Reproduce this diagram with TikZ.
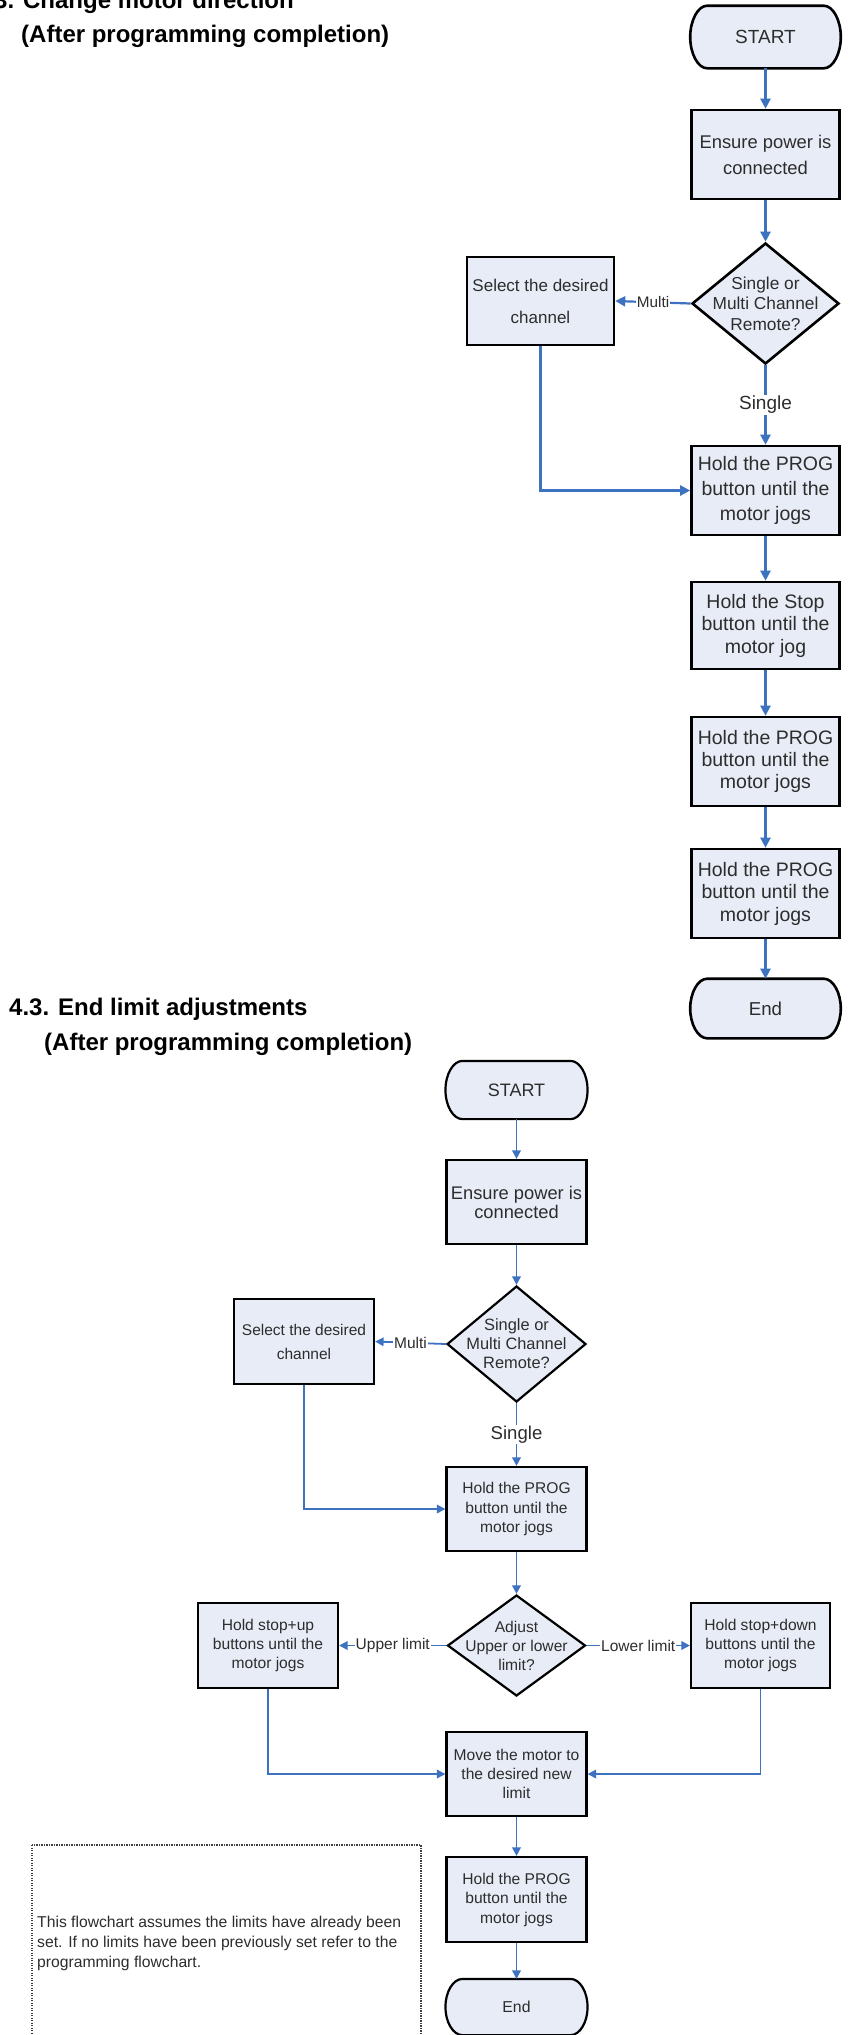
\documentclass[tikz,border=0pt]{standalone}
\usepackage{fontspec}
\setmainfont{Liberation Sans}
\usetikzlibrary{shapes.geometric,arrows.meta,backgrounds}
\definecolor{boxfill}{RGB}{232,236,247}
\definecolor{conn}{RGB}{60,114,192}
\definecolor{txt}{RGB}{45,45,45}
\newcommand\fsz[2]{\fontsize{#1}{#2}\selectfont}
% #1 node name, #2 line width, #3 vertical control length
\newcommand\termpath[3]{%
  \filldraw[fill=boxfill, draw=black, line width=#2]
    ([xshift=17pt]#1.north west) -- ([xshift=-17pt]#1.north east)
    .. controls +(9.4pt,0pt) and +(0pt,#3) .. (#1.east)
    .. controls +(0pt,-#3) and +(9.4pt,0pt) .. ([xshift=-17pt]#1.south east)
    -- ([xshift=17pt]#1.south west)
    .. controls +(-9.4pt,0pt) and +(0pt,-#3) .. (#1.west)
    .. controls +(0pt,#3) and +(-9.4pt,0pt) .. ([xshift=17pt]#1.north west)
    -- cycle;}
\begin{document}
\begin{tikzpicture}[x=1pt,y=-1pt,
  titletext/.style={inner sep=0pt, anchor=base west, text=black, font=\fsz{24}{28}\bfseries},
  tbox/.style={rectangle, draw=black, line width=2.6pt, fill=boxfill, inner sep=0pt,
               align=center, text=txt, minimum width=148pt},
  bbox/.style={rectangle, draw=black, line width=2.2pt, fill=boxfill, inner sep=0pt,
               align=center, text=txt, minimum width=140pt},
  tterm/.style={rectangle, inner sep=0pt, outer sep=1.3pt, align=center, text=txt, minimum width=148pt},
  bterm/.style={rectangle, inner sep=0pt, outer sep=1.1pt, align=center, text=txt, minimum width=140pt},
  tdia/.style={diamond, draw=black, line width=2.6pt, fill=boxfill, inner sep=0pt},
  bdia/.style={diamond, draw=black, line width=2.2pt, fill=boxfill, inner sep=0pt},
  dtext/.style={inner sep=0pt, align=center, text=txt},
  tconn/.style={draw=conn, line width=2.2pt, -{Triangle[length=10pt,width=10pt]}},
  bconn/.style={draw=conn, line width=1.8pt, -{Triangle[length=8.5pt,width=8.5pt]}},
  lbl/.style={fill=white, inner sep=1.2pt, text=txt},
  notebox/.style={draw=black!75, line width=1.2pt, dash pattern=on 1.2pt off 1.3pt}
]
\useasboundingbox (0,0) rectangle (853,2035);
\clip (0,0) rectangle (853,2035);

% ---------- titles ----------
\node[titletext] (t1a) at (-6,8) {3. Change motor direction};
\node[titletext] (t1b) at (21,42) {(After programming completion)};
\node[titletext] (t2a) at (9,1015) {4.3. End limit adjustments};
\node[titletext] (t2b) at (44,1050) {(After programming completion)};

% ---------- top chart ----------
\node[tterm, minimum height=60pt, font=\fsz{19}{22}] (start1) at (765.5,37) {START};
\node[tbox, minimum height=89pt, font=\fsz{18.4}{26}] (ensure1) at (765.5,154.5) {Ensure power is\\connected};
\node[tdia, minimum width=147pt, minimum height=121pt] (dec1) at (765.5,303.5) {};
\node[dtext, font=\fsz{17.3}{20.5}] (dec1t) at (dec1.center) {Single or\\Multi Channel\\Remote?};
\node[tbox, minimum width=147pt, minimum height=88pt, font=\fsz{17}{32}] (select1) at (540.5,301) {Select the desired\\channel};
\node[tbox, minimum height=89pt, font=\fsz{19.5}{25}] (prog1) at (765.5,490.5) {Hold the PROG\\button until the\\motor jogs};
\node[tbox, minimum height=87pt, font=\fsz{19.5}{22.5}] (stop1) at (765.5,625.5) {Hold the Stop\\button until the\\motor jog};
\node[tbox, minimum height=89pt, font=\fsz{19.5}{22}] (prog2) at (765.5,761.5) {Hold the PROG\\button until the\\motor jogs};
\node[tbox, minimum height=89pt, font=\fsz{19.5}{22.5}] (prog3) at (765.5,893.5) {Hold the PROG\\button until the\\motor jogs};
\node[tterm, minimum height=57pt, font=\fsz{18.7}{22}] (end1) at (765.5,1008.5) {End};

\draw[tconn] (start1.south) -- (ensure1.north);
\draw[tconn] (ensure1.south) -- (dec1.north);
\draw[tconn] (dec1.west) -- node[lbl, font=\fsz{15.3}{18}] {Multi} (select1.east);
\draw[tconn] (dec1.south) -- node[lbl, font=\fsz{19}{22}] {Single} (prog1.north);
\draw[tconn] (select1.south) |- (prog1.west);
\draw[tconn] (prog1.south) -- (stop1.north);
\draw[tconn] (stop1.south) -- (prog2.north);
\draw[tconn] (prog2.south) -- (prog3.north);
\draw[tconn] (prog3.south) -- (end1.north);

% ---------- bottom chart ----------
\node[bterm, minimum height=56pt, font=\fsz{18}{22}] (start2) at (516.5,1090) {START};
\node[bbox, minimum height=84pt, font=\fsz{18.3}{19}] (ensure2) at (516.5,1202) {Ensure power is\\connected};
\node[bdia, minimum width=139pt, minimum height=116pt] (dec2) at (516.5,1344) {};
\node[dtext, font=\fsz{16.4}{19}] (dec2t) at (dec2.center) {Single or\\Multi Channel\\Remote?};
\node[bbox, minimum height=85pt, font=\fsz{15.5}{24}] (select2) at (304,1341.5) {Select the desired\\channel};
\node[bbox, minimum height=84pt, font=\fsz{15.6}{19.5}] (prog21) at (516.5,1509) {Hold the PROG\\button until the\\motor jogs};
\node[bdia, minimum width=138pt, minimum height=101pt] (dec3) at (516.5,1645.5) {};
\node[dtext, font=\fsz{15.6}{19}] (dec3t) at (dec3.center) {Adjust\\Upper or lower\\limit?};
\node[bbox, minimum height=85pt, font=\fsz{15.6}{19}] (stopup) at (268,1645.5) {Hold stop+up\\buttons until the\\motor jogs};
\node[bbox, minimum width=139pt, minimum height=85pt, font=\fsz{15.6}{19}] (stopdown) at (760.5,1645.5) {Hold stop+down\\buttons until the\\motor jogs};
\node[bbox, minimum height=84pt, font=\fsz{15.6}{19}] (move) at (516.5,1774) {Move the motor to\\the desired new\\limit};
\node[bbox, minimum height=85pt, font=\fsz{15.6}{19.5}] (prog22) at (516.5,1899.5) {Hold the PROG\\button until the\\motor jogs};
\node[bterm, minimum height=54pt, font=\fsz{15.8}{20}] (end2) at (516.5,2007) {End};

\draw[bconn] (start2.south) -- (ensure2.north);
\draw[bconn] (ensure2.south) -- (dec2.north);
\draw[bconn] (dec2.west) -- node[lbl, font=\fsz{15.5}{18}] {Multi} (select2.east);
\draw[bconn] (dec2.south) -- node[lbl, font=\fsz{18.6}{22}] {Single} (prog21.north);
\draw[bconn] (select2.south) |- (prog21.west);
\draw[bconn] (prog21.south) -- (dec3.north);
\draw[bconn] (dec3.west) -- node[lbl, font=\fsz{15.5}{18}] {Upper limit} (stopup.east);
\draw[bconn] (dec3.east) -- node[lbl, font=\fsz{15.5}{18}] {Lower limit} (stopdown.west);
\draw[bconn] (stopup.south) |- (move.west);
\draw[bconn] (stopdown.south) |- (move.east);
\draw[bconn] (move.south) -- (prog22.north);
\draw[bconn] (prog22.south) -- (end2.north);

% ---------- note ----------
\coordinate (noteTL) at (32,1845);
\coordinate (noteBR) at (421,2070);
\draw[notebox] (noteTL) rectangle (noteBR);
\node[inner sep=0pt, anchor=west, align=left, text=txt, font=\fsz{15.7}{20}] (note) at (37,1943)
  {This flowchart assumes the limits have already been\\set. If no limits have been previously set refer to the\\programming flowchart.};

% ---------- terminal outlines (behind their text) ----------
\begin{scope}[on background layer]
  \fill[white] (0,0) rectangle (853,2035);
  \termpath{start1}{2.6pt}{16.5pt}
  \termpath{end1}{2.6pt}{15.7pt}
  \termpath{start2}{2.2pt}{15.4pt}
  \termpath{end2}{2.2pt}{14.9pt}
\end{scope}
\end{tikzpicture}
\end{document}
